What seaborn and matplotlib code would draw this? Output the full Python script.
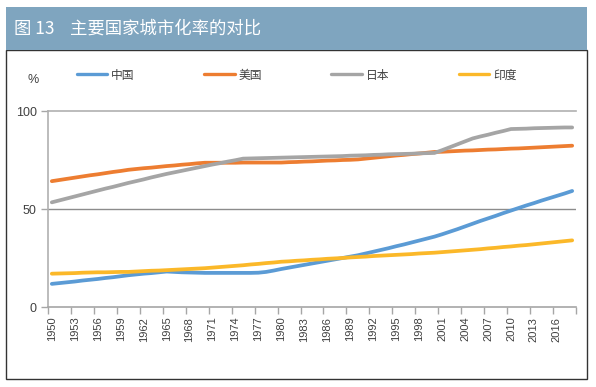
import numpy as np
import pandas as pd
import seaborn as sns
import matplotlib.pyplot as plt
from matplotlib.patches import Rectangle
from matplotlib.lines import Line2D

years = list(range(1950, 2019))
china = [11.8, 12.2, 12.6, 13.0, 13.5, 13.9, 14.3, 14.8, 15.2, 15.7,
         16.2, 16.6, 17.0, 17.3, 17.7, 18.1, 17.9, 17.7, 17.6, 17.5,
         17.4, 17.4, 17.4, 17.4, 17.4, 17.4, 17.4, 17.5, 17.9, 18.6,
         19.4, 20.1, 20.8, 21.5, 22.2, 22.9, 23.6, 24.3, 25.0, 25.7,
         26.4, 27.3, 28.2, 29.1, 30.0, 31.0, 31.9, 32.9, 33.9, 34.9,
         35.9, 37.1, 38.4, 39.7, 41.1, 42.5, 43.9, 45.2, 46.5, 47.9,
         49.2, 50.5, 51.8, 53.0, 54.3, 55.5, 56.7, 57.9, 59.2]
usa = [64.2, 64.8, 65.4, 66.0, 66.6, 67.2, 67.7, 68.3, 68.9, 69.4,
       70.0, 70.4, 70.8, 71.1, 71.5, 71.9, 72.2, 72.6, 72.9, 73.3,
       73.6, 73.6, 73.6, 73.6, 73.6, 73.7, 73.7, 73.7, 73.7, 73.7,
       73.7, 73.9, 74.0, 74.2, 74.3, 74.5, 74.7, 74.8, 75.0, 75.1,
       75.3, 75.7, 76.1, 76.5, 76.9, 77.3, 77.6, 78.0, 78.3, 78.7,
       79.1, 79.2, 79.4, 79.6, 79.8, 79.9, 80.1, 80.3, 80.4, 80.6,
       80.8, 80.9, 81.1, 81.3, 81.5, 81.7, 81.9, 82.1, 82.3]
japan = [53.4, 54.4, 55.4, 56.4, 57.4, 58.4, 59.4, 60.4, 61.3, 62.3,
         63.3, 64.2, 65.1, 66.1, 67.0, 67.9, 68.7, 69.5, 70.3, 71.1,
         71.9, 72.7, 73.4, 74.2, 74.9, 75.7, 75.8, 75.9, 76.0, 76.1,
         76.2, 76.3, 76.4, 76.5, 76.6, 76.7, 76.8, 76.9, 77.0, 77.2,
         77.3, 77.4, 77.6, 77.7, 77.9, 78.0, 78.1, 78.2, 78.4, 78.5,
         78.6, 80.0, 81.5, 83.0, 84.5, 86.0, 87.0, 87.9, 88.9, 89.8,
         90.8, 90.9, 91.0, 91.2, 91.3, 91.4, 91.5, 91.6, 91.6]
india = [17.0, 17.1, 17.2, 17.3, 17.5, 17.6, 17.7, 17.7, 17.8, 17.9,
         17.9, 18.1, 18.3, 18.5, 18.6, 18.8, 19.0, 19.2, 19.4, 19.6,
         19.8, 20.1, 20.4, 20.7, 21.0, 21.3, 21.7, 22.0, 22.4, 22.7,
         23.1, 23.3, 23.6, 23.8, 24.1, 24.3, 24.6, 24.8, 25.0, 25.3,
         25.5, 25.7, 26.0, 26.2, 26.4, 26.6, 26.8, 27.0, 27.3, 27.5,
         27.7, 28.0, 28.3, 28.6, 28.9, 29.2, 29.5, 29.9, 30.2, 30.6,
         30.9, 31.3, 31.6, 32.0, 32.4, 32.8, 33.2, 33.6, 34.0]
countries = ["中国", "美国", "日本", "印度"]
colors = ["#5b9bd5", "#ed7d31", "#a5a5a5", "#fbb829"]
yticks = [0, 50, 100]
title = "图 13    主要国家城市化率的对比"

sns.set_theme(style="white")
plt.rcParams['font.family'] = ['Liberation Sans', 'Noto Sans CJK SC', 'DejaVu Sans']

rows = []
for name, vals in zip(countries, [china, usa, japan, india]):
    for i, (yr, v) in enumerate(zip(years, vals)):
        rows.append({"country": name, "pos": i + 0.5, "year": yr, "value": v})
df = pd.DataFrame(rows)

W, H = 596, 387
fig = plt.figure(figsize=(W / 100, H / 100), dpi=100)
fig.patch.set_facecolor("white")

# outer box and title bar
box = Rectangle((6 / W, 1 - 379 / H), 581 / W, 329 / H, transform=fig.transFigure,
                facecolor="none", edgecolor="#333333", linewidth=1.0, zorder=-2)
bar = Rectangle((6 / W, 1 - 50 / H), 581 / W, 43 / H, transform=fig.transFigure,
                facecolor="#7fa5bf", edgecolor="none", zorder=-1)
fig.add_artist(box)
fig.add_artist(bar)
fig.text(14 / W, 1 - 29 / H, title, color="white", fontsize=12.5, va="center", ha="left",
         family=['Noto Sans CJK SC', 'DejaVu Sans'])

ax = fig.add_axes([48 / W, 1 - 307 / H, 528 / W, 196 / H])
ax.set_facecolor("none")
sns.lineplot(data=df, x="pos", y="value", hue="country", hue_order=countries,
             palette=colors, linewidth=2.7, legend=False, ax=ax)
for l in ax.lines:
    l.set_solid_capstyle("round")
    l.set_solid_joinstyle("round")

n = len(years)
ax.set_xlim(0, n)
ax.set_ylim(0, 100)
ax.set_xlabel("")
ax.set_ylabel("")

ax.set_xticks(np.arange(0, n + 1, 3))
ax.set_xticklabels([])
ax.set_xticks([i + 0.5 for i in range(0, n, 3)], minor=True)
ax.set_xticklabels([str(years[i]) for i in range(0, n, 3)], minor=True, rotation=90,
                   fontsize=8, color="#404040")
ax.tick_params(axis="x", which="major", direction="out", length=5, width=1, color="#a6a6a6", bottom=True)
ax.tick_params(axis="x", which="minor", length=0, pad=7, bottom=True)

ax.set_yticks(yticks)
ax.set_yticklabels([str(v) for v in yticks], fontsize=9, color="#404040")
ax.tick_params(axis="y", direction="out", length=5, width=1, color="#a6a6a6", left=True, pad=3)

ax.spines["right"].set_visible(False)
ax.spines["top"].set_color("#b0b0b0")
ax.spines["left"].set_color("#b0b0b0")
ax.spines["bottom"].set_color("#a6a6a6")
for s in ["top", "left", "bottom"]:
    ax.spines[s].set_linewidth(1.2)
ax.axhline(50, color="#8c8c8c", linewidth=1.0, zorder=0.5)

fig.text(28 / W, 1 - 80 / H, "%", fontsize=9, color="#404040", ha="left", va="center")

# legend
handles = [Line2D([], [], color=c, linewidth=2.4) for c in colors]
fig.legend(handles, countries, loc="center left", bbox_to_anchor=(66 / W, 1 - 75 / H),
           ncol=4, frameon=False, handlelength=2.6, handletextpad=0.3,
           columnspacing=5.9, labelcolor="#404040",
           prop={'family': ['Noto Sans CJK SC', 'DejaVu Sans'], 'size': 8.5})

fig.savefig("out.png", dpi=100, facecolor="white")
